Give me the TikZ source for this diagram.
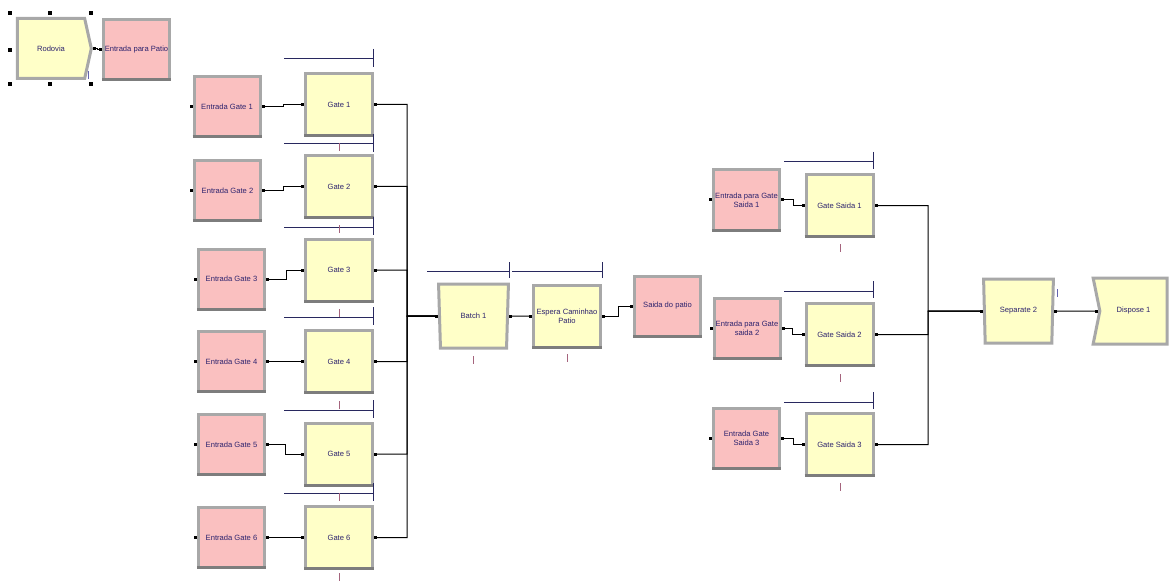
\documentclass[tikz,border=0pt]{standalone}
\usepackage{fontspec}
\setmainfont{Liberation Sans}
\usetikzlibrary{shapes.geometric,shapes.symbols,arrows.meta,calc}
\definecolor{modyel}{RGB}{255,255,200}
\definecolor{modpink}{RGB}{250,192,192}
\definecolor{frame}{RGB}{168,168,168}
\definecolor{frameDk}{RGB}{125,125,125}
\definecolor{txt}{RGB}{45,35,110}
\definecolor{res}{RGB}{40,40,95}
\definecolor{qmark}{RGB}{165,100,125}
\definecolor{bmark}{RGB}{100,100,175}
\tikzset{
  mod/.style={draw=frame, line width=3pt, font=\fontsize{7.6}{9}\selectfont, text=txt, align=center, inner sep=1pt},
  yelbox/.style={mod, fill=modyel, rectangle, minimum width=67, minimum height=62},
  pinkbox/.style={mod, fill=modpink, rectangle, minimum width=66, minimum height=60},
  flarebox/.style={mod, fill=modyel, trapezium, trapezium stretches=true, trapezium left angle=96, trapezium right angle=96, minimum width=70, minimum height=64},
  conn/.style={draw=black, line width=1pt, arrows={Square[length=3pt,width=3pt]-Square[length=3pt,width=3pt]}},
  connout/.style={draw=black, line width=1pt, arrows={Square[length=3pt,width=3pt]-}},
  resbar/.style={draw=res, line width=1pt},
  qm/.style={draw=qmark, line width=1pt},
  bm/.style={draw=bmark, line width=1pt},
  handle/.style={fill=black, draw=none, minimum size=4pt, inner sep=0pt, rectangle},
  indot/.style={fill=black, draw=none, minimum size=3pt, inner sep=0pt, rectangle}
}
\begin{document}
\begin{tikzpicture}[x=1pt,y=-1pt]
\useasboundingbox[fill=white] (0,0) rectangle (1176,583);

% top-left create / station
\node[mod, fill=modyel, signal, signal to=east, signal pointer angle=155, minimum width=74, minimum height=60] (rod) at (51,48.5) {Rodovia};
\node[pinkbox] (ep) at (136.5,49.5) {Entrada para Patio};

% entrance stations
\node[pinkbox] (eg1) at (227,106.5) {Entrada Gate 1};
\node[pinkbox] (eg2) at (227.5,190.5) {Entrada Gate 2};
\node[pinkbox] (eg3) at (231.5,279) {Entrada Gate 3};
\node[pinkbox] (eg4) at (231.5,361.5) {Entrada Gate 4};
\node[pinkbox] (eg5) at (231.5,444.5) {Entrada Gate 5};
\node[pinkbox] (eg6) at (231.5,537.5) {Entrada Gate 6};

% gates
\node[yelbox] (g1) at (339,104.5) {Gate 1};
\node[yelbox] (g2) at (339,186.5) {Gate 2};
\node[yelbox] (g3) at (339,270) {Gate 3};
\node[yelbox] (g4) at (339,361.5) {Gate 4};
\node[yelbox] (g5) at (339,454) {Gate 5};
\node[yelbox] (g6) at (339,537.5) {Gate 6};

% batch & wait
\node[flarebox] (b1) at (473.5,316) {Batch 1};
\node[yelbox] (esp) at (567,316) {Espera Caminhao\\Patio};
\node[pinkbox] (sai) at (667.5,306) {Saida do patio};

% exit gates
\node[pinkbox] (egs1) at (746.5,200) {Entrada para Gate\\Saida 1};
\node[pinkbox] (egs2) at (747,328) {Entrada para Gate\\saida 2};
\node[pinkbox] (egs3) at (746.5,438.5) {Entrada Gate\\Saida 3};
\node[yelbox] (gs1) at (839.5,205.5) {Gate Saida 1};
\node[yelbox] (gs2) at (839.5,334.5) {Gate Saida 2};
\node[yelbox] (gs3) at (839.5,444.5) {Gate Saida 3};

\node[flarebox] (sep) at (1018.5,311) {Separate 2};
\node[mod, fill=modyel, signal, signal from=west, signal to=nowhere, signal pointer angle=157, minimum width=74, minimum height=66] (disp) at (1133.5,311) {Dispose 1};

% darker bottom edges of rectangular modules
\foreach \n in {ep,eg1,eg2,eg3,eg4,eg5,eg6,g1,g2,g3,g4,g5,g6,esp,sai,egs1,egs2,egs3,gs1,gs2,gs3}
  \draw[frameDk, line width=3pt] ([yshift=1.5pt]\n.south west) -- ([yshift=1.5pt]\n.south east);

% bus coordinates
\coordinate (busL) at (407,316);
\coordinate (busR) at (928,311);

% connectors
\draw[conn] (rod.east) -- ++(5,0) |- (ep.west);
\draw[conn] (eg1.east) -- ++(22,0) |- (g1.west);
\draw[conn] (eg2.east) -- ++(21,0) |- (g2.west);
\draw[conn] (eg3.east) -- ++(20,0) |- (g3.west);
\draw[conn] (eg4.east) -- (g4.west);
\draw[conn] (eg5.east) -- ++(19,0) |- (g5.west);
\draw[conn] (eg6.east) -- (g6.west);
\foreach \g in {g1,g2,g3,g4,g5,g6}
  \draw[conn] (\g.east) -| (busL) -- (b1.west);
\draw[conn] (b1.east) -- (esp.west);
\draw[conn] (esp.east) -- ++(16,0) |- (sai.west);
\draw[conn] (egs1.east) -- ++(12,0) |- (gs1.west);
\draw[conn] (egs2.east) -- ++(11,0) |- (gs2.west);
\draw[conn] (egs3.east) -- ++(12,0) |- (gs3.west);
\foreach \g in {gs1,gs2,gs3}
  \draw[conn] (\g.east) -| (busR) -- (sep.west);
\draw[conn] (sep.east) -- (disp.west);

% unconnected entry points
\foreach \n in {eg1,eg2,eg3,eg4,eg5,eg6,egs1,egs2,egs3}
  \node[indot] at ([xshift=-1.5pt]\n.west) {};

% resource bars
\foreach \y in {59,144,227,317,410,493}{
  \draw[resbar] (284,\y) -- (373,\y);
  \draw[resbar] (373,\y-10) -- (373,\y+8);
}
\foreach \y in {162,291,402}{
  \draw[resbar] (784,\y) -- (873,\y);
  \draw[resbar] (873,\y-10) -- (873,\y+7);
}
\draw[resbar] (427,271) -- (509,271);
\draw[resbar] (509,262) -- (509,278);
\draw[resbar] (512,271) -- (602,271);
\draw[resbar] (602,262) -- (602,278);

% queue marks
\foreach \y in {147,229,313,405,497,577}
  \draw[qm] (339,\y-4) -- (339,\y+4);
\draw[qm] (473,356) -- (473,364);
\draw[qm] (567,354) -- (567,362);
\foreach \y in {248,378,487}
  \draw[qm] (840,\y-4) -- (840,\y+4);
\draw[bm] (88,71) -- (88,79);
\draw[bm] (1057,289) -- (1057,297);

% selection handles
\foreach \p in {(10,13),(50,13),(91,13),(10,50),(10,84),(50,84),(91,84)}
  \node[handle] at \p {};
\end{tikzpicture}
\end{document}
